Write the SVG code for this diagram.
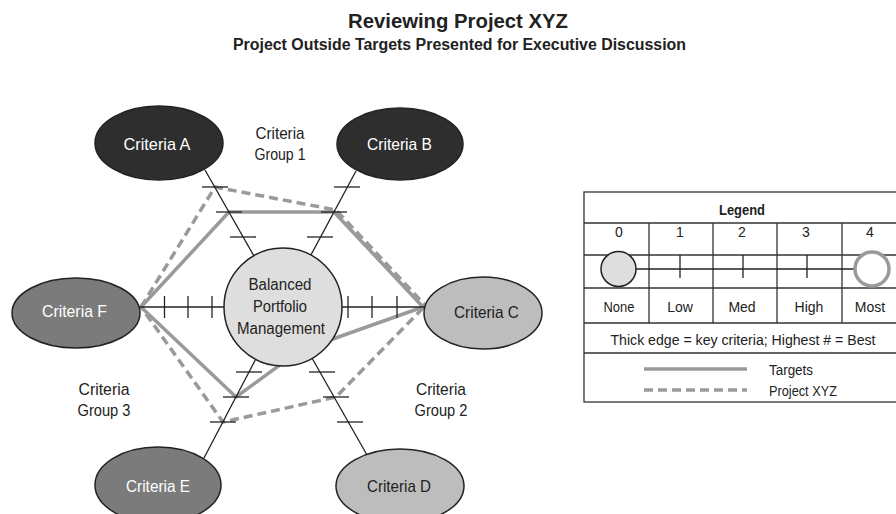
<svg xmlns="http://www.w3.org/2000/svg" width="896" height="514" viewBox="0 0 896 514">
  <style>
    text { font-family: "Liberation Sans Narrow", "Liberation Sans", Arial, sans-serif; fill: #222; }
    .title { font-size: 21px; font-weight: bold; text-anchor: middle; }
    .sub { font-size: 16px; font-weight: bold; text-anchor: middle; }
    .lbl { font-size: 17px; text-anchor: middle; }
    .lbl-w { fill: #ffffff; }
    .grp { font-size: 17px; text-anchor: middle; }
    .hub { font-size: 16px; text-anchor: middle; }
    .lg { font-size: 14px; text-anchor: middle; }
    .lg-l { font-size: 14px; text-anchor: start; }
    .spoke { stroke: #222; stroke-width: 1.3; fill: none; }
    .tick { stroke: #222; stroke-width: 1.3; }
    .target { stroke: #9a9a9a; stroke-width: 3.5; fill: none; stroke-linejoin: round; }
    .xyz { stroke: #9a9a9a; stroke-width: 3.5; fill: none; stroke-dasharray: 9 5; }
    .dark { fill: #2e2e2e; stroke: #222; stroke-width: 1.5; }
    .mid { fill: #7b7b7b; stroke: #222; stroke-width: 1.5; }
    .light { fill: #bdbdbd; stroke: #222; stroke-width: 1.5; }
    .hubc { fill: #dedede; stroke: #222; stroke-width: 1.5; }
    .grid { stroke: #333; stroke-width: 1.3; fill: none; }
  </style>

  <!-- Heading -->
  <text class="title" x="458" y="28" textLength="220" lengthAdjust="spacingAndGlyphs">Reviewing Project XYZ</text>
  <text class="sub" x="459.5" y="50" textLength="453" lengthAdjust="spacingAndGlyphs">Project Outside Targets Presented for Executive Discussion</text>

  <!-- Score polygons and spokes -->
  <g id="connectors">
    <polyline class="target" points="141,307 229,212 334,212 423,307 299,351 236,397 141,307"/>
    <polyline class="xyz" points="141,307 215,187 336,210 425,305"/>
    <polyline class="xyz" points="423,308 336,397 223,422 141,307"/>

    <line class="spoke" x1="283" y1="307" x2="205" y2="170"/>
    <line class="spoke" x1="283" y1="307" x2="356" y2="171"/>
    <line class="spoke" x1="283" y1="307" x2="425" y2="307"/>
    <line class="spoke" x1="283" y1="307" x2="140" y2="307"/>
    <line class="spoke" x1="283" y1="307" x2="367" y2="455"/>
    <line class="spoke" x1="283" y1="307" x2="204" y2="458"/>

    <!-- level ticks -->
    <line class="tick" x1="230" y1="237" x2="256" y2="237"/>
    <line class="tick" x1="216" y1="212" x2="242" y2="212"/>
    <line class="tick" x1="202" y1="187" x2="228" y2="187"/>

    <line class="tick" x1="307" y1="237" x2="333" y2="237"/>
    <line class="tick" x1="321" y1="212" x2="347" y2="212"/>
    <line class="tick" x1="334" y1="187" x2="360" y2="187"/>

    <line class="tick" x1="236" y1="372" x2="262" y2="372"/>
    <line class="tick" x1="223" y1="397" x2="249" y2="397"/>
    <line class="tick" x1="210" y1="422" x2="236" y2="422"/>

    <line class="tick" x1="309" y1="372" x2="335" y2="372"/>
    <line class="tick" x1="323" y1="397" x2="349" y2="397"/>
    <line class="tick" x1="337" y1="422" x2="363" y2="422"/>

    <line class="tick" x1="164.5" y1="296" x2="164.5" y2="318"/>
    <line class="tick" x1="188" y1="296" x2="188" y2="318"/>
    <line class="tick" x1="212" y1="296" x2="212" y2="318"/>
    <line class="tick" x1="348" y1="296" x2="348" y2="318"/>
    <line class="tick" x1="372" y1="296" x2="372" y2="318"/>
    <line class="tick" x1="397" y1="296" x2="397" y2="318"/>
  </g>

  <!-- Criteria nodes -->
  <g id="criteria-a">
    <ellipse class="dark" cx="159" cy="143" rx="64" ry="37"/>
    <text class="lbl lbl-w" x="157" y="150" textLength="67" lengthAdjust="spacingAndGlyphs">Criteria A</text>
  </g>
  <g id="criteria-b">
    <ellipse class="dark" cx="400" cy="144" rx="63" ry="36"/>
    <text class="lbl lbl-w" x="399.5" y="150" textLength="65" lengthAdjust="spacingAndGlyphs">Criteria B</text>
  </g>
  <g id="criteria-c">
    <ellipse class="light" cx="483" cy="313" rx="59" ry="36"/>
    <text class="lbl" x="486.5" y="318" textLength="65" lengthAdjust="spacingAndGlyphs">Criteria C</text>
  </g>
  <g id="criteria-d">
    <ellipse class="light" cx="400" cy="486" rx="64" ry="37"/>
    <text class="lbl" x="399" y="492" textLength="64" lengthAdjust="spacingAndGlyphs">Criteria D</text>
  </g>
  <g id="criteria-e">
    <ellipse class="mid" cx="158" cy="485" rx="63" ry="38"/>
    <text class="lbl lbl-w" x="158" y="492" textLength="64" lengthAdjust="spacingAndGlyphs">Criteria E</text>
  </g>
  <g id="criteria-f">
    <ellipse class="mid" cx="76" cy="313" rx="64" ry="35"/>
    <text class="lbl lbl-w" x="74.5" y="317" textLength="65" lengthAdjust="spacingAndGlyphs">Criteria F</text>
  </g>

  <!-- Hub -->
  <g id="hub">
    <circle class="hubc" cx="283" cy="307" r="59"/>
    <text class="hub" x="280" y="290" textLength="63" lengthAdjust="spacingAndGlyphs">Balanced</text>
    <text class="hub" x="280" y="312" textLength="54" lengthAdjust="spacingAndGlyphs">Portfolio</text>
    <text class="hub" x="281" y="334" textLength="88" lengthAdjust="spacingAndGlyphs">Management</text>
  </g>

  <!-- Group captions -->
  <g id="group-1">
    <text class="grp" x="280" y="139" textLength="49" lengthAdjust="spacingAndGlyphs">Criteria</text>
    <text class="grp" x="280" y="160" textLength="51" lengthAdjust="spacingAndGlyphs">Group 1</text>
  </g>
  <g id="group-2">
    <text class="grp" x="441" y="395" textLength="50" lengthAdjust="spacingAndGlyphs">Criteria</text>
    <text class="grp" x="441" y="416" textLength="53" lengthAdjust="spacingAndGlyphs">Group 2</text>
  </g>
  <g id="group-3">
    <text class="grp" x="104" y="395" textLength="51" lengthAdjust="spacingAndGlyphs">Criteria</text>
    <text class="grp" x="104" y="416" textLength="53" lengthAdjust="spacingAndGlyphs">Group 3</text>
  </g>

  <!-- Legend table -->
  <g id="legend">
    <rect class="grid" x="584" y="192" width="322" height="210" fill="#fff"/>
    <line class="grid" x1="584" y1="223" x2="906" y2="223"/>
    <line class="grid" x1="584" y1="255" x2="906" y2="255"/>
    <line class="grid" x1="584" y1="288" x2="906" y2="288"/>
    <line class="grid" x1="584" y1="323" x2="906" y2="323"/>
    <line class="grid" x1="584" y1="353" x2="906" y2="353"/>
    <line class="grid" x1="649" y1="223" x2="649" y2="323"/>
    <line class="grid" x1="713" y1="223" x2="713" y2="323"/>
    <line class="grid" x1="777" y1="223" x2="777" y2="323"/>
    <line class="grid" x1="842" y1="223" x2="842" y2="323"/>

    <text class="lg" x="742" y="215" font-weight="bold" textLength="46" lengthAdjust="spacingAndGlyphs">Legend</text>
    <text class="lg" x="619" y="237">0</text>
    <text class="lg" x="680" y="237">1</text>
    <text class="lg" x="742" y="237">2</text>
    <text class="lg" x="806" y="237">3</text>
    <text class="lg" x="870" y="237">4</text>

    <line class="spoke" x1="618" y1="269" x2="872" y2="269"/>
    <line class="tick" x1="680" y1="255" x2="680" y2="278"/>
    <line class="tick" x1="743" y1="255" x2="743" y2="278"/>
    <line class="tick" x1="807" y1="255" x2="807" y2="278"/>
    <circle class="hubc" cx="618.5" cy="269" r="17.5"/>
    <circle cx="872" cy="269" r="17" fill="#fff" stroke="#9a9a9a" stroke-width="3.5"/>

    <text class="lg" x="619" y="312" textLength="31" lengthAdjust="spacingAndGlyphs">None</text>
    <text class="lg" x="680" y="312">Low</text>
    <text class="lg" x="742" y="312">Med</text>
    <text class="lg" x="809" y="312">High</text>
    <text class="lg" x="870" y="312">Most</text>

    <text class="lg" x="743" y="345" textLength="265" lengthAdjust="spacingAndGlyphs">Thick edge = key criteria; Highest # = Best</text>

    <line class="target" x1="644" y1="369" x2="747" y2="369"/>
    <line class="xyz" x1="644" y1="390" x2="747" y2="390"/>
    <text class="lg-l" x="769" y="375" textLength="44" lengthAdjust="spacingAndGlyphs">Targets</text>
    <text class="lg-l" x="769" y="396" textLength="68" lengthAdjust="spacingAndGlyphs">Project XYZ</text>
  </g>
</svg>
